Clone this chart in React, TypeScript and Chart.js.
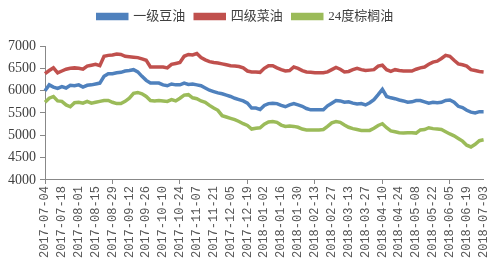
import React, { useEffect, useRef } from "react";
import { Chart, registerables } from "chart.js";

Chart.register(...registerables);

// Sampling: every Tuesday and Friday from 2017-07-04 to 2018-07-03
const startDate = "2017-07-04";
const dayOffsets: number[] = [];
for (let w = 0; w <= 52; w++) {
  dayOffsets.push(w * 7);
  if (w < 52) dayOffsets.push(w * 7 + 3);
}
const pad2 = (n: number) => (n < 10 ? "0" + n : "" + n);
const categories: string[] = dayOffsets.map((d) => {
  const t = new Date(startDate + "T00:00:00Z");
  t.setUTCDate(t.getUTCDate() + d);
  return `${t.getUTCFullYear()}-${pad2(t.getUTCMonth() + 1)}-${pad2(t.getUTCDate())}`;
});

const seriesNames = ["一级豆油", "四级菜油", "24度棕榈油"];

const soybeanOil = [
  6000, 6130, 6080, 6050, 6090, 6060, 6120, 6110, 6130, 6080,
  6120, 6130, 6150, 6170, 6320, 6380, 6380, 6400, 6410, 6440,
  6450, 6470, 6420, 6320, 6230, 6170, 6170, 6170, 6130, 6110,
  6150, 6130, 6130, 6170, 6140, 6150, 6130, 6110, 6060, 6010,
  5980, 5950, 5930, 5900, 5870, 5830, 5800, 5770, 5720, 5610,
  5610, 5580, 5670, 5710, 5720, 5710, 5670, 5640, 5680, 5710,
  5680, 5650, 5600, 5570, 5570, 5570, 5570, 5660, 5720, 5780,
  5770, 5740, 5750, 5720, 5700, 5710, 5680, 5730, 5800, 5910,
  6030, 5870, 5840, 5820, 5790, 5770, 5740, 5750, 5780, 5780,
  5750, 5720, 5740, 5730, 5740, 5780, 5790, 5740, 5650, 5620,
  5560, 5520, 5500, 5530, 5530,
];

const rapeseedOil = [
  6380, 6450, 6510, 6400, 6440, 6480, 6500, 6510, 6500, 6480,
  6550, 6570, 6590, 6560, 6770, 6790, 6800, 6820, 6810, 6770,
  6760, 6750, 6740, 6710, 6680, 6530, 6530, 6530, 6530, 6510,
  6590, 6610, 6630, 6770, 6810, 6800, 6830, 6740, 6690, 6650,
  6630, 6620, 6600, 6580, 6560, 6550, 6540, 6510, 6440, 6420,
  6420, 6410, 6500, 6560, 6560, 6510, 6470, 6440, 6450, 6530,
  6500, 6450, 6420, 6410, 6400, 6400, 6400, 6420, 6470, 6520,
  6480, 6420, 6430, 6470, 6500, 6470, 6450, 6460, 6470, 6550,
  6570, 6470, 6430, 6470, 6450, 6440, 6440, 6440, 6480, 6510,
  6530, 6590, 6640, 6660, 6720, 6790, 6770, 6680, 6600, 6580,
  6550, 6470, 6450, 6430, 6420,
];

const palmOil = [
  5740, 5830, 5870, 5770, 5760, 5680, 5640, 5730, 5740, 5720,
  5760, 5720, 5740, 5760, 5780, 5780, 5740, 5710, 5710, 5760,
  5830, 5940, 5960, 5930, 5870, 5780, 5770, 5780, 5770, 5760,
  5800, 5770, 5830, 5900, 5910, 5840, 5820, 5770, 5740, 5670,
  5610, 5560, 5440, 5410, 5380, 5350, 5310, 5260, 5220, 5140,
  5160, 5170, 5250, 5300, 5310, 5290, 5230, 5200, 5210, 5200,
  5180, 5140, 5120, 5120, 5120, 5120, 5130, 5200, 5280, 5310,
  5290, 5230, 5180, 5150, 5130, 5110, 5110, 5110, 5160, 5220,
  5260, 5170, 5100, 5080, 5060, 5050, 5060, 5060, 5050, 5120,
  5130, 5170, 5150, 5140, 5130, 5080, 5030, 4990, 4930, 4870,
  4780, 4740, 4800, 4880, 4900,
];

const seriesColors = ["#4F81BD", "#C0504D", "#9BBB59"];
const yMin = 4000;
const yMax = 7000;
const yStep = 500;
const labelEvery = 4;

const axisColor = "#888888";
const textColor = "#404040";

const legendGap = {
  id: "legendGap",
  beforeInit(chart: any) {
    const legend = chart.legend;
    if (!legend) return;
    const origFit = legend.fit;
    legend.fit = function () {
      origFit.call(this);
      this.height += 13;
    };
  },
};

export default function App() {
  const canvasRef = useRef<HTMLCanvasElement | null>(null);

  useEffect(() => {
    if (!canvasRef.current) return;
    const data = [soybeanOil, rapeseedOil, palmOil];
    const chart = new Chart(canvasRef.current, {
      type: "line",
      data: {
        labels: categories,
        datasets: seriesNames.map((name, i) => ({
          label: name,
          data: data[i],
          borderColor: seriesColors[i],
          backgroundColor: seriesColors[i],
          borderWidth: 3.5,
          pointRadius: 0,
          tension: 0,
          fill: false,
        })),
      },
      plugins: [legendGap],
      options: {
        animation: false,
        responsive: false,
        devicePixelRatio: 1,
        layout: { padding: { left: 4, right: 13, top: 0, bottom: 12 } },
        plugins: {
          tooltip: { enabled: false },
          legend: {
            position: "top",
            labels: {
              boxWidth: 29,
              boxHeight: 4,
              padding: 10,
              color: textColor,
              font: { family: "'Liberation Serif', 'Noto Sans CJK SC'", size: 13 },
            },
          },
        },
        scales: {
          x: {
            type: "category",
            offset: false,
            border: { display: true, color: axisColor, width: 1 },
            grid: {
              display: true,
              drawOnChartArea: false,
              drawTicks: true,
              tickLength: 4,
              tickColor: (ctx: any) => (ctx.index % labelEvery === 0 ? axisColor : "rgba(0,0,0,0)"),
            },
            ticks: {
              autoSkip: false,
              minRotation: 90,
              maxRotation: 90,
              padding: 2,
              color: "#555555",
              font: { family: "'Liberation Mono'", size: 12 },
              callback: (_v: any, idx: number) => (idx % labelEvery === 0 ? categories[idx] : null),
            },
          },
          y: {
            min: yMin,
            max: yMax,
            border: { display: true, color: axisColor, width: 1 },
            grid: {
              display: true,
              drawOnChartArea: false,
              drawTicks: true,
              tickLength: 5,
              tickColor: axisColor,
            },
            ticks: {
              stepSize: yStep,
              padding: 4,
              color: textColor,
              font: { family: "'Liberation Serif'", size: 14 },
              callback: (v: any) => String(v),
            },
          },
        },
      },
    });
    return () => chart.destroy();
  }, []);

  return (
    <div style={{ position: "absolute", left: 0, top: 0, width: 500, height: 272, background: "#fff" }}>
      <canvas ref={canvasRef} width={500} height={272} />
    </div>
  );
}
